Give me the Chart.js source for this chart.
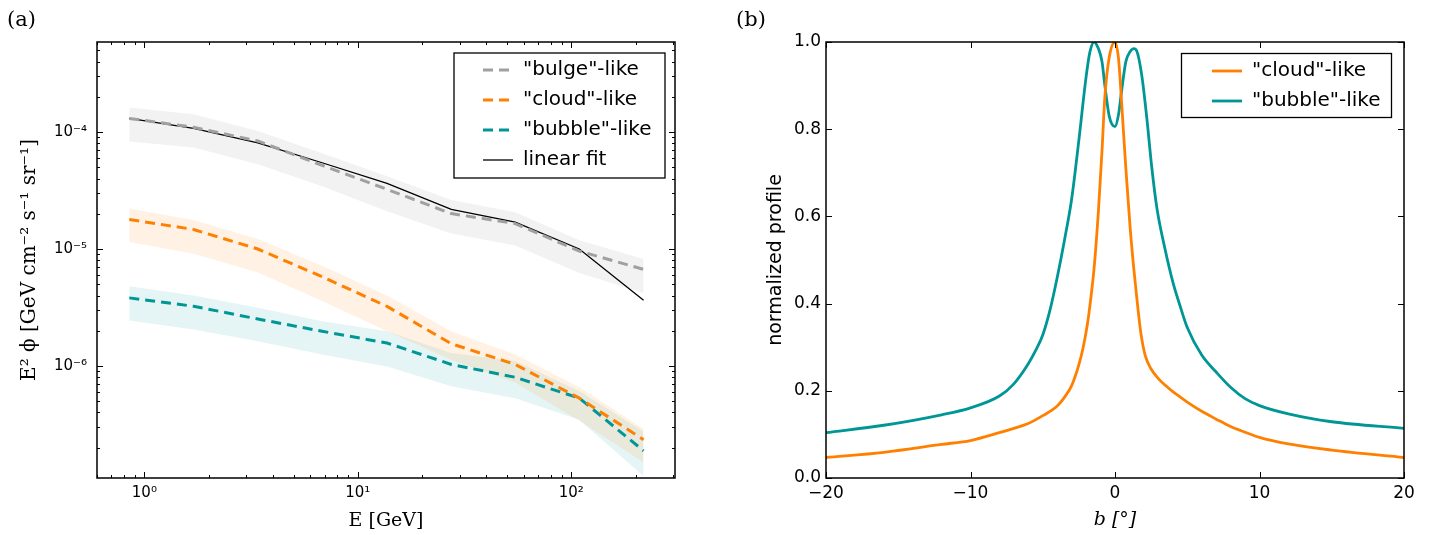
<!DOCTYPE html>
<html>
<head>
<meta charset="utf-8">
<script src="https://cdn.jsdelivr.net/npm/chart.js@4.4.1/dist/chart.umd.min.js"></script>
<style>
  body { margin: 0; background: #fff; }
  #wrap { position: relative; width: 1437px; height: 535px; }
  canvas { position: absolute; top: 0; }
  .panel { position: absolute; font-family: 'DejaVu Serif', serif; font-size: 21px; line-height: 1; }
</style>
</head>
<body>
<div id="wrap">
  <canvas id="spectrum" width="718" height="535" style="left:0"></canvas>
  <canvas id="profile" width="719" height="535" style="left:718px"></canvas>
  <div class="panel" style="left:7px;top:9px">(a)</div>
  <div class="panel" style="left:736px;top:9px">(b)</div>
</div>
<script>
Chart.defaults.font.family = "'DejaVu Sans', sans-serif";
Chart.defaults.color = '#000';
Chart.defaults.animation = false;

// panel (a): spectra
const energy = [0.85, 1.7, 3.4, 6.8, 13.7, 27.4, 54.6, 109, 218];
const bulge = [1.31e-4, 1.10e-4, 8.4e-5, 5.2e-5, 3.24e-5, 2.01e-5, 1.65e-5, 9.6e-6, 6.7e-6];
const bulgeHi = [1.62e-4, 1.42e-4, 1.02e-4, 6.6e-5, 4.2e-5, 2.62e-5, 2.06e-5, 1.19e-5, 8.2e-6];
const bulgeLo = [8.3e-5, 7.4e-5, 5.3e-5, 3.45e-5, 2.1e-5, 1.36e-5, 1.07e-5, 6.25e-6, 4.2e-6];
const linearFit = [1.31e-4, 1.076e-4, 8.1e-5, 5.47e-5, 3.64e-5, 2.18e-5, 1.70e-5, 1.0e-5, 3.65e-6];
const cloud = [1.79e-5, 1.47e-5, 1.0e-5, 5.8e-6, 3.23e-6, 1.55e-6, 1.03e-6, 5.3e-7, 2.34e-7];
const cloudHi = [2.22e-5, 1.77e-5, 1.22e-5, 7.2e-6, 4.0e-6, 1.98e-6, 1.25e-6, 6.6e-7, 2.9e-7];
const cloudLo = [1.15e-5, 9.1e-6, 6.3e-6, 3.6e-6, 1.98e-6, 1.13e-6, 7.2e-7, 3.4e-7, 1.5e-7];
const bubble = [3.82e-6, 3.24e-6, 2.52e-6, 1.98e-6, 1.57e-6, 1.03e-6, 8.0e-7, 5.3e-7, 1.88e-7];
const bubbleHi = [4.81e-6, 4.0e-6, 3.14e-6, 2.41e-6, 1.98e-6, 1.29e-6, 1.1e-6, 6.1e-7, 2.75e-7];
const bubbleLo = [2.45e-6, 2.05e-6, 1.63e-6, 1.25e-6, 9.9e-7, 6.7e-7, 5.3e-7, 3.47e-7, 1.14e-7];

const energyTicks = [1, 10, 100];
const energyTickLabels = ['10⁰', '10¹', '10²'];
const fluxTicks = [1e-6, 1e-5, 1e-4];
const fluxTickLabels = ['10⁻⁶', '10⁻⁵', '10⁻⁴'];

// panel (b): latitude profiles
const cloudLat = [-20, -16, -12, -10, -8, -7, -6, -5, -4, -3.5, -3, -2.5, -2.2, -1.9, -1.7, -1.45, -1.15, -0.9, -0.7, -0.4, 0,
  0.25, 0.45, 0.75, 1.05, 1.3, 1.55, 1.8, 2.1, 2.5, 3, 3.5, 4, 4.5, 5, 6, 7, 8, 9, 10, 12, 15, 20];
const cloudProfile = [0.047, 0.059, 0.077, 0.086, 0.104, 0.114, 0.125, 0.143, 0.165, 0.185, 0.212, 0.26, 0.30, 0.355, 0.405, 0.48, 0.611, 0.75, 0.875, 0.965, 1.0,
  0.96, 0.865, 0.71, 0.573, 0.48, 0.40, 0.33, 0.28, 0.25, 0.228, 0.212, 0.198, 0.186, 0.174, 0.153, 0.135, 0.118, 0.105, 0.093, 0.078, 0.064, 0.047];
const bubbleLat = [-20, -16, -12, -10, -8, -7, -6, -5.5, -5, -4.5, -4, -3.5, -3, -2.5, -2, -1.75, -1.45, -1.15, -0.9, -0.7, -0.4, 0,
  0.25, 0.45, 0.75, 1.05, 1.3, 1.5, 1.85, 2.2, 2.55, 2.9, 3.45, 4, 4.5, 5, 6, 7, 8, 9, 10, 12, 15, 20];
const bubbleProfile = [0.104, 0.121, 0.145, 0.161, 0.188, 0.216, 0.262, 0.292, 0.328, 0.385, 0.46, 0.545, 0.64, 0.775, 0.92, 0.975, 1.0, 0.985, 0.955, 0.9, 0.83, 0.806,
  0.835, 0.886, 0.955, 0.978, 0.985, 0.98, 0.924, 0.826, 0.711, 0.619, 0.527, 0.45, 0.395, 0.345, 0.282, 0.243, 0.208, 0.182, 0.166, 0.147, 0.129, 0.114];

const latTicks = [-20, -10, 0, 10, 20];
const latTickLabels = ['−20', '−10', '0', '10', '20'];
const profTicks = [0, 0.2, 0.4, 0.6, 0.8, 1.0];
const profTickLabels = ['0.0', '0.2', '0.4', '0.6', '0.8', '1.0'];

const GREY = '#a0a0a0';
const ORANGE = '#ff8000';
const TEAL = '#009696';

function points(xs, ys) {
    return xs.map((x, i) => ({ x, y: ys[i] }));
}

// all 1..9 x 10^d positions inside the range, decades marked big
function logTicks(min, max) {
    const out = [];
    for (let d = Math.floor(Math.log10(min)); d <= Math.ceil(Math.log10(max)); d++) {
        for (let k = 1; k <= 9; k++) {
            const v = k * Math.pow(10, d);
            if (v >= min && v <= max) out.push({ value: v, big: k === 1 });
        }
    }
    return out;
}

function labelFor(values, labels) {
    return (value) => {
        const i = values.findIndex(t => Math.abs(value - t) <= Math.abs(t) * 1e-9 + 1e-12);
        return i >= 0 ? labels[i] : '';
    };
}

function legendLabels(chart) {
    return chart.data.datasets
        .map((ds, i) => ({
            text: ds.label,
            strokeStyle: ds.borderColor,
            fillStyle: ds.borderColor,
            lineWidth: ds.borderWidth,
            lineDash: ds.borderDash || [],
            pointStyle: 'line',
            fontColor: '#000',
            hidden: false,
            datasetIndex: i,
        }))
        .filter(item => !chart.data.datasets[item.datasetIndex].band);
}

// matplotlib-like frame: inward ticks on all sides, boxed legend
const axisFrame = {
    id: 'axisFrame',
    afterLayout(chart, args, opts) {
        const lg = chart.legend;
        lg.left = opts.legendX;
        lg.top = opts.legendY;
        lg.width = 300;
        lg.height = 200;
        lg.right = lg.left + lg.width;
        lg.bottom = lg.top + lg.height;
    },
    afterDraw(chart, args, opts) {
        const { ctx, chartArea: a } = chart;
        const { x, y } = chart.scales;
        ctx.save();
        ctx.strokeStyle = '#000';
        ctx.lineWidth = 1;
        ctx.beginPath();
        x.ticks.forEach(t => {
            const p = Math.round(x.getPixelForValue(t.value)) + 0.5;
            const len = t.big ? 6 : 3;
            ctx.moveTo(p, a.bottom); ctx.lineTo(p, a.bottom - len);
            ctx.moveTo(p, a.top); ctx.lineTo(p, a.top + len);
        });
        y.ticks.forEach(t => {
            const p = Math.round(y.getPixelForValue(t.value)) + 0.5;
            const len = t.big ? 6 : 3;
            ctx.moveTo(a.left, p); ctx.lineTo(a.left + len, p);
            ctx.moveTo(a.right, p); ctx.lineTo(a.right - len, p);
        });
        ctx.stroke();
        ctx.lineWidth = 1.5;
        ctx.strokeRect(a.left, a.top, a.right - a.left, a.bottom - a.top);
        const b = opts.legendBox;
        ctx.lineWidth = 1.3;
        ctx.strokeRect(b[0], b[1], b[2], b[3]);
        ctx.restore();
    },
};

function lineSet(label, ys, color, width, dash) {
    return {
        label,
        data: points(energy, ys),
        borderColor: color,
        backgroundColor: color,
        borderWidth: width,
        borderDash: dash,
        pointRadius: 0,
        fill: false,
    };
}

function bandSet(ys, fillColor, fill) {
    return {
        band: true,
        label: '',
        data: points(energy, ys),
        borderWidth: 0,
        borderColor: 'rgba(0,0,0,0)',
        backgroundColor: fillColor,
        pointRadius: 0,
        fill,
    };
}

const legendOptions = {
    position: 'chartArea',
    align: 'start',
    labels: {
        usePointStyle: true,
        pointStyleWidth: 30,
        padding: 10,
        font: { size: 20 },
        generateLabels: legendLabels,
    },
};

// panel (a)
new Chart(document.getElementById('spectrum').getContext('2d'), {
    type: 'line',
    data: {
        datasets: [
            lineSet('"bulge"-like', bulge, GREY, 3, [10, 6]),
            lineSet('"cloud"-like', cloud, ORANGE, 3, [10, 6]),
            lineSet('"bubble"-like', bubble, TEAL, 3, [10, 6]),
            lineSet('linear fit', linearFit, '#000', 1.3, []),
            bandSet(bulgeHi, 'rgba(0,0,0,0)', false),
            bandSet(bulgeLo, 'rgba(128,128,128,0.1)', '-1'),
            bandSet(cloudHi, 'rgba(0,0,0,0)', false),
            bandSet(cloudLo, 'rgba(255,128,0,0.1)', '-1'),
            bandSet(bubbleHi, 'rgba(0,0,0,0)', false),
            bandSet(bubbleLo, 'rgba(0,150,150,0.1)', '-1'),
        ],
    },
    options: {
        responsive: false,
        layout: { padding: { top: 42, right: 43, bottom: 0, left: 0 } },
        plugins: {
            filler: { drawTime: 'beforeDatasetsDraw' },
            tooltip: { enabled: false },
            legend: legendOptions,
            axisFrame: { legendX: 473, legendY: 50, legendBox: [454, 53, 211, 125] },
        },
        scales: {
            x: {
                type: 'logarithmic',
                min: 0.6,
                max: 306,
                grid: { display: false, drawTicks: false },
                border: { display: false },
                afterBuildTicks: (scale) => { scale.ticks = logTicks(scale.min, scale.max); },
                afterFit: (scale) => { scale.height = 57; },
                ticks: {
                    autoSkip: false, maxRotation: 0, padding: 6,
                    font: { size: 15 },
                    callback: labelFor(energyTicks, energyTickLabels),
                },
                title: {
                    display: true, text: 'E [GeV]',
                    font: { family: "'DejaVu Serif', serif", size: 19 },
                    padding: { top: 0, bottom: 3 },
                },
            },
            y: {
                type: 'logarithmic',
                min: 1.1e-7,
                max: 5.9e-4,
                grid: { display: false, drawTicks: false },
                border: { display: false },
                afterBuildTicks: (scale) => { scale.ticks = logTicks(scale.min, scale.max); },
                afterFit: (scale) => { scale.width = 97; },
                ticks: {
                    autoSkip: false, padding: 10,
                    font: { size: 15 },
                    callback: labelFor(fluxTicks, fluxTickLabels),
                },
                title: {
                    display: true, text: 'E² ϕ [GeV cm⁻² s⁻¹ sr⁻¹]',
                    font: { family: "'DejaVu Serif', serif", size: 20 },
                    padding: { top: 18, bottom: 0 },
                },
            },
        },
    },
    plugins: [axisFrame],
});

// panel (b)
new Chart(document.getElementById('profile').getContext('2d'), {
    type: 'line',
    data: {
        datasets: [
            {
                label: '"cloud"-like',
                data: points(cloudLat, cloudProfile),
                borderColor: ORANGE,
                backgroundColor: ORANGE,
                borderWidth: 2.8,
                pointRadius: 0,
                cubicInterpolationMode: 'monotone',
            },
            {
                label: '"bubble"-like',
                data: points(bubbleLat, bubbleProfile),
                borderColor: TEAL,
                backgroundColor: TEAL,
                borderWidth: 2.8,
                pointRadius: 0,
                cubicInterpolationMode: 'monotone',
            },
        ],
    },
    options: {
        responsive: false,
        layout: { padding: { top: 42, right: 33, bottom: 0, left: 0 } },
        plugins: {
            tooltip: { enabled: false },
            legend: legendOptions,
            axisFrame: { legendX: 484, legendY: 51, legendBox: [463.5, 53.5, 210, 64] },
        },
        scales: {
            x: {
                type: 'linear',
                min: -20,
                max: 20,
                grid: { display: false, drawTicks: false },
                border: { display: false },
                afterBuildTicks: (scale) => { scale.ticks = latTicks.map(v => ({ value: v, big: true })); },
                afterFit: (scale) => { scale.height = 57; },
                ticks: {
                    autoSkip: false, maxRotation: 0, padding: 5,
                    font: { size: 17 },
                    callback: labelFor(latTicks, latTickLabels),
                },
                title: {
                    display: true, text: 'b [°]',
                    font: { family: "'DejaVu Serif', serif", size: 19, style: 'italic' },
                    padding: { top: 0, bottom: 4 },
                },
            },
            y: {
                type: 'linear',
                min: 0,
                max: 1,
                grid: { display: false, drawTicks: false },
                border: { display: false },
                afterBuildTicks: (scale) => { scale.ticks = profTicks.map(v => ({ value: v, big: true })); },
                afterFit: (scale) => { scale.width = 108; },
                ticks: {
                    autoSkip: false, padding: 5,
                    font: { size: 17 },
                    callback: labelFor(profTicks, profTickLabels),
                },
                title: {
                    display: true, text: 'normalized profile',
                    font: { size: 19 },
                    padding: { top: 47, bottom: 0 },
                },
            },
        },
    },
    plugins: [axisFrame],
});
</script>
</body>
</html>
